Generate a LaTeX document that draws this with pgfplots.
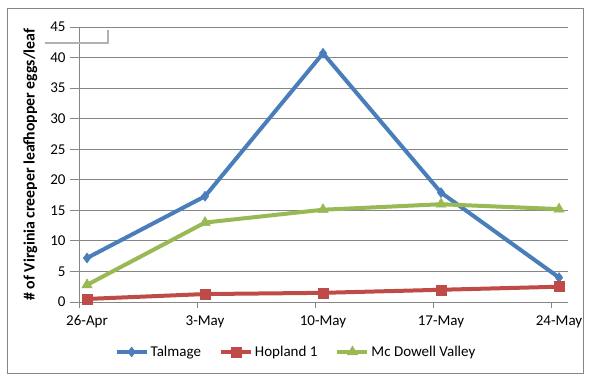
\documentclass[border=0pt]{standalone}
\usepackage{pgfplots}
\pgfplotsset{compat=1.18}
\usepackage{fontspec}
\setmainfont{Carlito}
\definecolor{cblue}{HTML}{4A7EBB}
\definecolor{cred}{HTML}{BE4B48}
\definecolor{cgreen}{HTML}{98B954}
\definecolor{cgrid}{HTML}{868686}
\begin{document}
\begin{tikzpicture}
\path[use as bounding box] (-79pt,-86pt) rectangle (516pt,302pt);
\draw[cgrid, line width=0.9pt] (-72pt,-71pt) rectangle (504pt,294pt);
\begin{axis}[
  at={(0pt,0pt)}, anchor=south west,
  scale only axis, width=489pt, height=275pt,
  xmin=-0.068, xmax=4.076, ymin=0, ymax=45,
  xtick={0,1,2,3,4},
  xticklabels={26-Apr,3-May,10-May,17-May,24-May},
  major x tick style={draw=none},
  minor xtick={-0.068,0.932,1.932,2.932,3.932},
  minor x tick style={cgrid, line width=0.8pt},
  ytick={0,5,...,45},
  ymajorgrids, grid style={cgrid, line width=0.8pt},
  major y tick style={cgrid, line width=0.8pt},
  tick align=outside,
  major tick length=9pt, minor tick length=6pt,
  axis line style={cgrid, line width=0.8pt},
  axis x line*=bottom, axis y line*=left,
  ticklabel style={font=\fontsize{15}{17}\selectfont},
  xticklabel style={yshift=-1pt},
  yticklabel style={xshift=-1pt},
  /pgf/number format/assume math mode=true,
  ylabel={\bfseries \# of Virginia creeper leafhopper eggs/leaf},
  ylabel style={font=\fontsize{15.8}{18}\selectfont, at={(axis description cs:-0.078,0.5)}, anchor=south},
  legend columns=3,
  legend style={draw=none, fill=none, at={(217pt,-50pt)}, anchor=center, font=\fontsize{15}{17}\selectfont,
    /tikz/every even column/.append style={column sep=16pt}},
  legend image code/.code={\draw[#1] (0pt,0pt) -- (30pt,0pt); \path[#1, mark repeat=1] plot coordinates {(15pt,0pt)};},
]
\addplot[cblue, line width=4pt, mark=diamond*, mark size=5pt, mark options={line width=0.5pt}] coordinates {(0,7.2) (1,17.3) (2,40.7) (3,17.9) (4,4.0)};
\addlegendentry{Talmage}
\addplot[cred, line width=4pt, mark=square*, mark size=5pt, mark options={line width=0.5pt}] coordinates {(0,0.5) (1,1.3) (2,1.5) (3,2.0) (4,2.5)};
\addlegendentry{Hopland 1}
\addplot[cgreen, line width=4pt, mark=triangle*, mark size=6pt, mark options={line width=0.5pt}] coordinates {(0,2.8) (1,13.0) (2,15.1) (3,16.0) (4,15.2)};
\addlegendentry{Mc Dowell Valley}
\end{axis}
\draw[gray!60, line width=1.2pt] (-34pt,259pt) -- (29pt,259pt) -- (29pt,272pt);
\end{tikzpicture}
\end{document}
